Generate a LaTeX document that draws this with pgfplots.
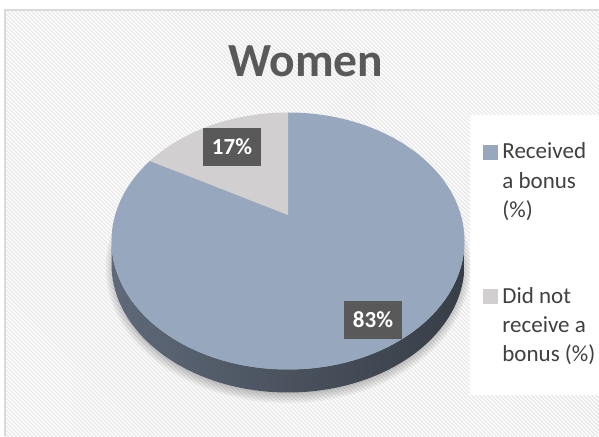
\documentclass[border=0pt]{standalone}
\usepackage{pgfplots}
\pgfplotsset{compat=1.18}
\usepackage{pgfplotstable}
\usetikzlibrary{patterns.meta}
\usepackage{fontspec}
\setmainfont{Carlito}
\definecolor{cblue}{HTML}{97A8BE}
\definecolor{cgray}{HTML}{D1CFD0}
\definecolor{clab}{HTML}{595959}
\definecolor{ctext}{HTML}{404040}
\definecolor{cside1}{HTML}{5F6979}
\definecolor{cside2}{HTML}{4A525E}
\definecolor{cside3}{HTML}{373E47}
\definecolor{cborder}{HTML}{D9D9D9}

\pgfplotstableread{
label value
Received 83
DidNot 17
}\piedata
\pgfplotstablegetelem{0}{value}\of\piedata \let\va\pgfplotsretval
\pgfplotstablegetelem{1}{value}\of\piedata \let\vb\pgfplotsretval
% perspective tilt of the pie (centre projected above ellipse centre)
\pgfmathsetmacro\sh{0.2063}
\pgfmathsetmacro\ch{1.0211}
\pgfmathsetmacro\thB{90-3.6*\va}
\pgfmathsetmacro\den{\ch+\sh*sin(\thB)}
\pgfmathsetmacro\uu{cos(\thB)/\den}
\pgfmathsetmacro\vv{(\sh+\ch*sin(\thB))/\den}
\pgfmathsetmacro\tB{atan2(\vv,\uu)}
\pgfmathsetmacro\tBneg{\tB-360}
\pgfmathsetmacro\pBx{288+176.5*\uu}
\pgfmathsetmacro\pBy{-241+128.5*\vv}

\begin{document}
\begin{tikzpicture}
\begin{axis}[
  scale only axis, width=599pt, height=436pt,
  xmin=0, xmax=599, ymin=-436, ymax=0,
  hide axis,
  legend style={draw=none, fill=none, inner sep=0pt, outer sep=0pt,
    at={(axis cs:483,-143)}, anchor=north west,
    font=\fontsize{23}{29.3}\selectfont, text=ctext,
    nodes={inner sep=0pt, outer sep=0pt}, row sep=68pt, column sep=5pt,
    cells={anchor=north west, align=left}},
  legend image code/.code={\fill[#1] (0pt,-16.1pt) rectangle (14pt,-2.1pt);},
]
% background
\fill[white] (axis cs:0,0) rectangle (axis cs:599,-436);
\fill[pattern={Lines[angle=-45,distance=2.83pt,line width=1.3pt]}, pattern color=black!9]
  (axis cs:5,-10) rectangle (axis cs:599,-436);
\draw[cborder, line width=1.4pt] (axis cs:5,-436) -- (axis cs:5,-10) -- (axis cs:599,-10);
% legend box
\fill[white] (axis cs:470,-115) rectangle (axis cs:599,-395);
% shadow
\fill[black, opacity=0.035] (axis cs:288,-268) ellipse[x radius=172pt, y radius=124pt];
\fill[black, opacity=0.035] (axis cs:288,-268) ellipse[x radius=173.5pt, y radius=125.6pt];
\fill[black, opacity=0.035] (axis cs:288,-268) ellipse[x radius=175pt, y radius=127.2pt];
\fill[black, opacity=0.035] (axis cs:288,-268) ellipse[x radius=176.5pt, y radius=128.8pt];
\fill[black, opacity=0.035] (axis cs:288,-268) ellipse[x radius=178pt, y radius=130.4pt];
\fill[black, opacity=0.035] (axis cs:288,-268) ellipse[x radius=179.5pt, y radius=132pt];
\fill[black, opacity=0.035] (axis cs:288,-268) ellipse[x radius=181pt, y radius=133.6pt];
\fill[black, opacity=0.035] (axis cs:288,-268) ellipse[x radius=182.5pt, y radius=135.2pt];
% side
\shade[left color=cside1, right color=cside3, middle color=cside2]
  (axis cs:111.5,-241) arc[start angle=180, end angle=360, x radius=176.5pt, y radius=128.5pt]
  -- ++(0pt,-23pt) arc[start angle=360, end angle=180, x radius=176.5pt, y radius=128.5pt] -- cycle;
% slices
\fill[cblue] (axis cs:288,-215) -- (axis cs:288,-112.5)
  arc[start angle=90, end angle=\tBneg, x radius=176.5pt, y radius=128.5pt] -- cycle;
\fill[cgray] (axis cs:288,-215) -- (axis cs:\pBx,\pBy)
  arc[start angle=\tB, end angle=90, x radius=176.5pt, y radius=128.5pt] -- cycle;
% data labels
\node[fill=clab, text=white, font=\bfseries\fontsize{23}{28}\selectfont, minimum width=58pt, minimum height=38pt, inner sep=0pt] at (axis cs:232,-147) {\vb\%};
\node[fill=clab, text=white, font=\bfseries\fontsize{23}{28}\selectfont, minimum width=58pt, minimum height=38pt, inner sep=0pt] at (axis cs:373,-320) {\va\%};
% title
\node[anchor=base, text=clab, font=\bfseries\fontsize{47.5}{52}\selectfont] at (axis cs:306,-77) {Women};
\addlegendimage{cblue}
\addlegendentry{Received\\a bonus\\(\%)}
\addlegendimage{cgray}
\addlegendentry{Did not\\receive a\\bonus (\%)}
\end{axis}
\end{tikzpicture}
\end{document}
